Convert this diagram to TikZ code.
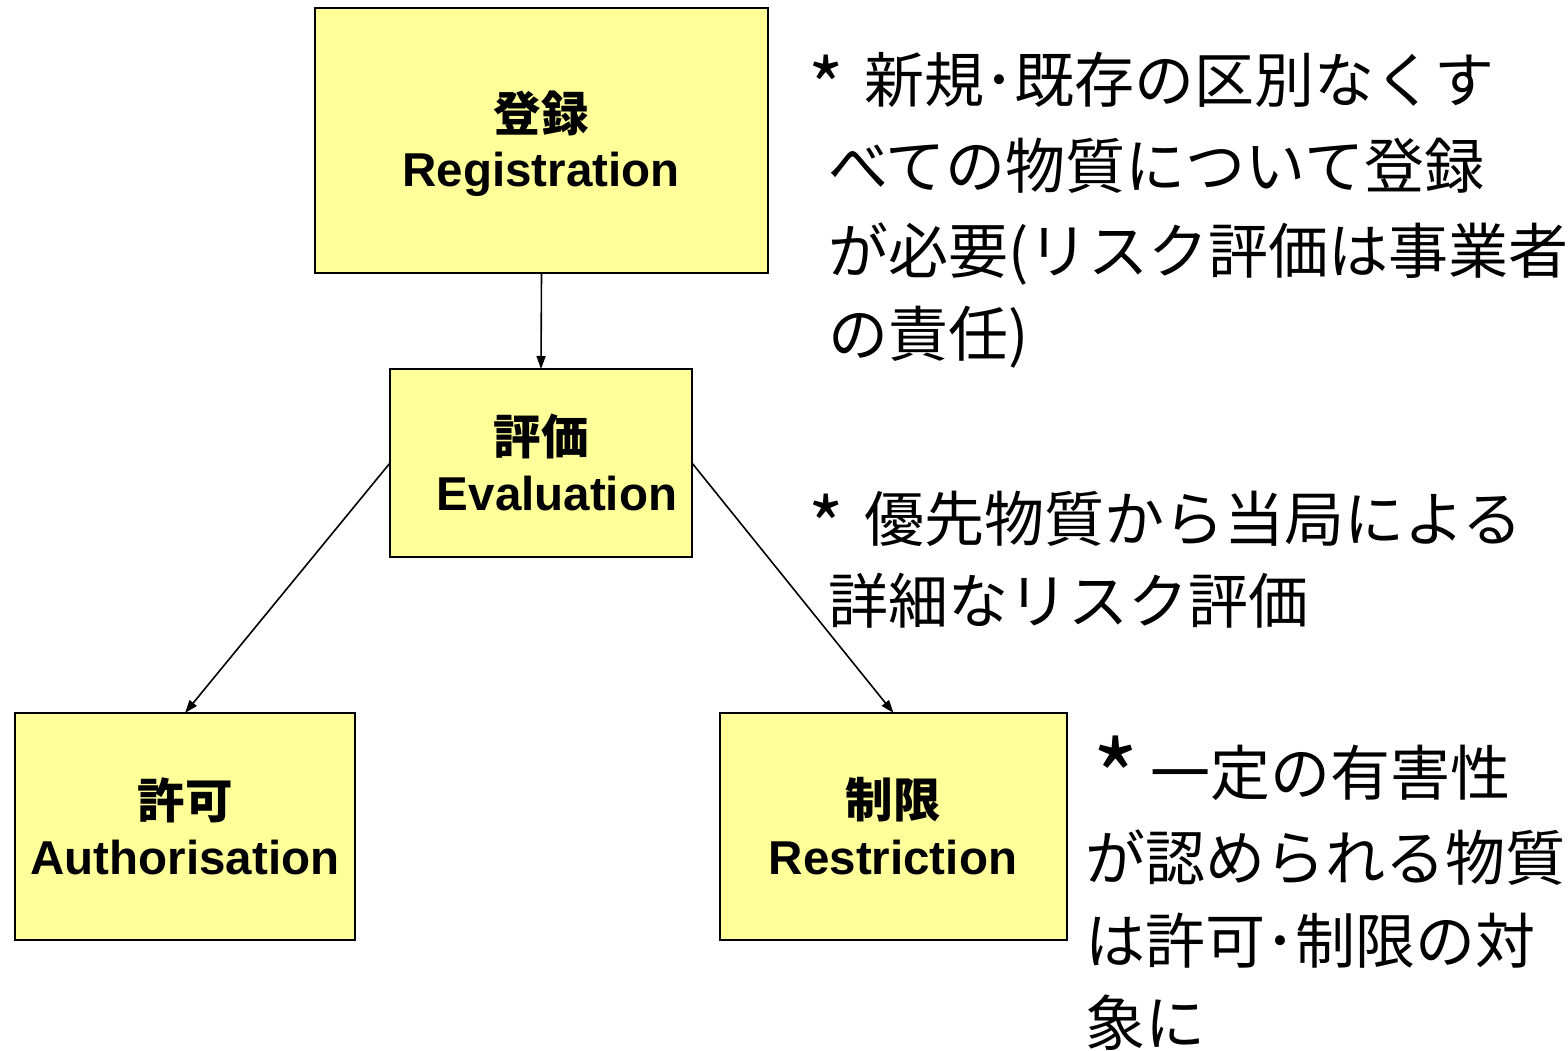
\documentclass[tikz,border=0pt]{standalone}
\usepackage{fontspec}
\usetikzlibrary{arrows.meta}
\newfontfamily\labfont{Liberation Sans}
\newfontfamily\jpfont{Noto Sans CJK JP}
\newcommand\notestar[3]{\raisebox{-#2}{\fontsize{#1}{84}\selectfont *}\hspace{#3}}
\tikzset{
  stagebox/.style={draw=black, line width=1.5pt, fill=boxyellow, inner sep=0pt, outer sep=0pt},
  jplabel/.style={font=\jpfont\bfseries\fontsize{47.5}{57}\selectfont, inner sep=0pt, anchor=center},
  enlabel/.style={font=\labfont\bfseries\fontsize{47.5}{57}\selectfont, inner sep=0pt, anchor=base},
  note/.style={font=\jpfont\fontsize{60}{84}\selectfont, inner sep=0pt, anchor=base west},
  flow/.style={line width=1.6pt, -{Triangle[length=13pt,width=9pt]}}
}
\definecolor{boxyellow}{HTML}{FFFF99}
\begin{document}
\begin{tikzpicture}[x=1pt,y=-1pt]
\useasboundingbox (0,0) rectangle (1568,1051);
% boxes
\node[stagebox, minimum width=453pt, minimum height=265pt] (reg) at (541.5,140.5) {};
\node[stagebox, minimum width=302pt, minimum height=188pt] (eval) at (541,463) {};
\node[stagebox, minimum width=340pt, minimum height=227pt] (auth) at (185,826.5) {};
\node[stagebox, minimum width=347pt, minimum height=227pt] (restr) at (893.5,826.5) {};
% box labels
\node[jplabel] (regj) at (541,113) {登録};
\node[enlabel] (rege) at (541,187) {Registration};
\node[jplabel] (evalj) at (541,436) {評価};
\node[enlabel] (evale) at (557,510) {Evaluation};
\node[jplabel] (authj) at (185,800) {許可};
\node[enlabel] (authe) at (185,874) {Authorisation};
\node[jplabel] (restrj) at (893,800) {制限};
\node[enlabel] (restre) at (893,874) {Restriction};
% connectors
\draw[flow] (reg.south) -- (eval.north);
\draw[flow] (eval.west) -- (auth.north);
\draw[flow] (eval.east) -- (restr.north);
% notes
\node[note] (n1) at (808,103) {\notestar{76}{13pt}{21pt}新規･既存の区別なくす};
\node[note] (n2) at (828,189) {べての物質について登録};
\node[note] (n3) at (828,273) {が必要(リスク評価は事業者};
\node[note] (n4) at (828,356) {の責任)};
\node[note] (n5) at (808,541) {\notestar{76}{13pt}{21pt}優先物質から当局による};
\node[note] (n6) at (828,623) {詳細なリスク評価};
\node[note] (n7) at (1092,795) {\notestar{100}{20pt}{12pt}一定の有害性};
\node[note] (n8) at (1085,880) {が認められる物質};
\node[note] (n9) at (1085,963) {は許可･制限の対};
\node[note] (n10) at (1085,1045) {象に};
\end{tikzpicture}
\end{document}
